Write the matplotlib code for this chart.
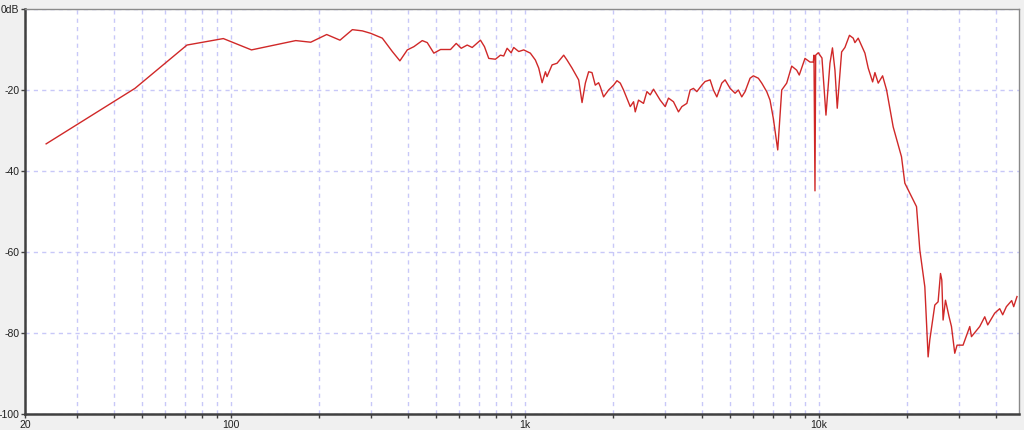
import matplotlib
matplotlib.use("Agg")
import matplotlib.pyplot as plt
from matplotlib.ticker import FixedLocator, NullFormatter

plt.rcParams['font.family'] = ['Liberation Sans', 'DejaVu Sans']

# frequency response (Hz, dB)
freq_hz = [
    23.6, 47.3, 71.1, 94.5, 117.8, 166.6, 187.4, 212.3, 235.6, 259.6,
    280.7, 299.5, 328.2, 354.9, 376.6, 399.1, 420.2, 448.7, 466.6, 491.3,
    517.8, 559.8, 585.4, 608.8, 638.0, 663.4, 707.8, 730.3, 755.2, 795.8,
    827.4, 849.0, 872.0, 899.8, 918.3, 955.0, 992.9, 1046, 1088, 1117,
    1147, 1177, 1192, 1240, 1289, 1323, 1358, 1394, 1450, 1527,
    1568, 1609, 1651, 1695, 1739, 1785, 1809, 1856, 1930, 2007,
    2061, 2115, 2170, 2287, 2347, 2378, 2440, 2537, 2606, 2674,
    2744, 2818, 2891, 3007, 3085, 3208, 3336, 3426, 3563, 3656,
    3751, 3852, 4006, 4110, 4274, 4386, 4505, 4684, 4806, 4998,
    5197, 5333, 5476, 5619, 5843, 5996, 6236, 6404, 6658, 6832,
    7011, 7257, 7488, 7785, 8096, 8418, 8590, 8983, 9344, 9588,
    9639, 9715, 9768, 9968, 10261, 10588, 10924, 11140, 11359, 11566,
    11969, 12282, 12726, 13106, 13282, 13628, 14365, 14741, 15258, 15535,
    15940, 16496, 17020, 17920, 19130, 19634, 20417, 21515, 22079, 22962,
    23561, 23873, 24826, 25475, 25960, 26224, 26491, 26991, 27764, 28287,
    29026, 29554, 30974, 32648, 33082, 35290, 36710, 37580, 39684, 41270,
    42250, 43483, 45330, 46050, 47252,
]
level_db = [
    -33.3, -19.6, -8.9, -7.3, -10.1, -7.8, -8.2, -6.3, -7.7, -5.1,
    -5.4, -6.0, -7.2, -10.5, -12.8, -10.1, -9.3, -7.8, -8.3, -10.9,
    -10.0, -10.0, -8.5, -9.7, -8.9, -9.5, -7.7, -9.3, -12.2, -12.4,
    -11.4, -11.6, -9.7, -10.8, -9.5, -10.5, -10.1, -10.9, -12.6, -14.6,
    -18.2, -15.5, -16.7, -13.8, -13.4, -12.4, -11.4, -12.6, -14.6, -17.5,
    -23.1, -18.3, -15.5, -15.7, -18.8, -18.2, -19.2, -21.7, -20.0, -18.8,
    -17.7, -18.3, -20.0, -24.1, -22.9, -25.4, -22.5, -23.3, -20.4, -21.2,
    -19.8, -21.2, -22.5, -24.1, -22.0, -22.9, -25.4, -24.1, -23.3, -20.0,
    -19.6, -20.4, -18.8, -17.9, -17.5, -20.0, -21.7, -18.3, -17.5, -19.6,
    -20.8, -20.0, -21.7, -20.4, -17.1, -16.5, -17.1, -18.3, -20.4, -22.5,
    -27.0, -34.8, -20.0, -18.3, -14.1, -15.1, -16.3, -12.2, -13.1, -13.1,
    -11.4, -44.9, -11.4, -10.8, -12.1, -26.2, -13.4, -9.6, -15.1, -24.5,
    -10.6, -9.5, -6.5, -7.2, -8.3, -7.2, -10.9, -14.6, -18.0, -15.7,
    -18.3, -16.5, -20.0, -29.1, -36.5, -43.0, -45.5, -48.8, -59.5, -68.6,
    -85.9, -81.7, -73.1, -72.3, -65.3, -66.9, -76.8, -71.9, -76.0, -78.4,
    -85.0, -83.0, -83.0, -78.4, -80.9, -78.4, -76.0, -78.0, -75.1, -74.0,
    -75.5, -73.5, -72.0, -73.5, -71.0,
]

x_major = [20, 100, 1000, 10000]
x_labels = ["20", "100", "1k", "10k"]
x_minor = [30, 40, 50, 60, 70, 80, 90,
           200, 300, 400, 500, 600, 700, 800, 900,
           2000, 3000, 4000, 5000, 6000, 7000, 8000, 9000,
           20000, 30000, 40000]
y_ticks = [-100, -80, -60, -40, -20, 0]
y_labels = ["-100", "-80", "-60", "-40", "-20", "0dB"]

fig = plt.figure(figsize=(10.24, 4.30), dpi=100, facecolor="#f0f0f0")
ax = fig.add_axes([25 / 1024, 16 / 430, 994 / 1024, 405 / 430])
ax.set_facecolor("white")

ax.plot(freq_hz, level_db, color="#d02828", lw=1.0, zorder=3)

ax.set_xscale("log")
ax.set_xlim(20, 48000)
ax.set_ylim(-100, 0)

ax.xaxis.set_major_locator(FixedLocator(x_major))
ax.set_xticklabels(x_labels)
ax.xaxis.set_minor_locator(FixedLocator(x_minor))
ax.xaxis.set_minor_formatter(NullFormatter())
ax.set_yticks(y_ticks)
ax.set_yticklabels(y_labels)

grid_kw = dict(color="#c8c8f8", lw=1.0, ls=(0, (3, 3)))
ax.grid(True, which="both", axis="x", **grid_kw)
ax.grid(True, which="major", axis="y", **grid_kw)

ax.tick_params(axis="both", which="both", direction="out", length=3,
               width=1, color="#404040", labelsize=7.5, labelcolor="#202020")
ax.tick_params(axis="x", pad=1)
ax.tick_params(axis="y", pad=1)

for side in ["left", "bottom"]:
    ax.spines[side].set_color("#404040")
    ax.spines[side].set_linewidth(1.8)
for side in ["top", "right"]:
    ax.spines[side].set_color("#8a8a8a")
    ax.spines[side].set_linewidth(1.0)

fig.savefig("out.png", dpi=100, facecolor=fig.get_facecolor())
